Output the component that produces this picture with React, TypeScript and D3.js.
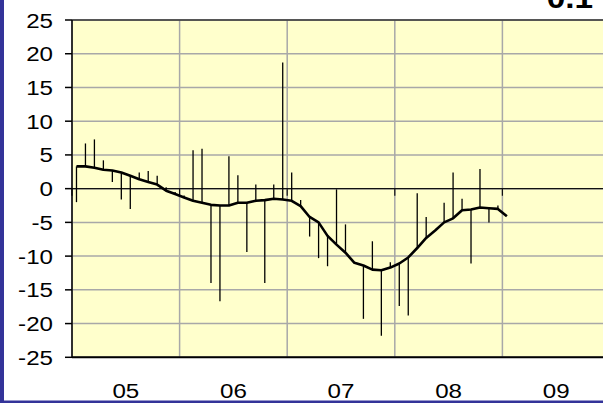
import React from "react";
import { scaleLinear, line } from "d3";

// monthly values, Jan 05 .. Jan 09
const years = ["05", "06", "07", "08", "09"];
const yTicks = [25, 20, 15, 10, 5, 0, -5, -10, -15, -20, -25];
const actual = [
  -2.0, 6.7, 7.3, 4.2, 1.0, -1.6, -3.0, 2.4, 2.6, 1.9, 0.2, -0.5,
  -1.0, 5.7, 5.9, -14.0, -16.7, 4.8, 2.0, -9.4, 0.6, -14.0, 0.6, 18.7,
  2.4, -1.7, -7.1, -10.3, -11.5, -0.1, -5.3, -11.0, -19.3, -7.8, -21.8, -10.9,
  -17.4, -18.8, -0.7, -4.2, -6.2, -2.1, 2.4, -1.5, -11.1, 2.9, -5.0, -2.5,
  -4.1
];
const trend = [
  3.3, 3.3, 3.1, 2.8, 2.7, 2.4, 1.9, 1.4, 1.0, 0.6, -0.3, -0.8,
  -1.3, -1.8, -2.1, -2.4, -2.5, -2.5, -2.1, -2.1, -1.8, -1.7, -1.5, -1.6,
  -1.8, -2.6, -4.2, -5.0, -7.0, -8.3, -9.5, -11.0, -11.4, -12.0, -12.1, -11.7,
  -11.1, -10.2, -8.8, -7.3, -6.2, -5.0, -4.4, -3.2, -3.1, -2.8, -2.9, -3.0,
  -4.1
];
const cornerLabel = "0.1";

const font = "'Liberation Sans', Arial, sans-serif";
const stretch = 1.15;

function Chart({ width, height }) {
  const left = 72,
    right = 610,
    top = 20,
    bottom = 357.3;

  const xScale = scaleLinear()
    .domain([0, years.length * 12])
    .range([left, right]);

  const yScale = scaleLinear()
    .domain([-25, 25])
    .range([bottom, top]);

  const trendPath = line()
    .x((d, i) => xScale(i + 0.5))
    .y(d => yScale(d))(trend);

  const yearEdges = years.map((_, i) => i * 12).concat([years.length * 12]);
  const y0 = yScale(0);

  return (
    <g>
      <rect
        x={left}
        y={top}
        width={right - left}
        height={bottom - top}
        fill="#ffffcc"
      />
      {yTicks.map(t => (
        <line
          key={"h" + t}
          x1={left}
          x2={right}
          y1={yScale(t)}
          y2={yScale(t)}
          stroke="#a8a8a8"
          strokeWidth={1.5}
        />
      ))}
      {yearEdges.map(m => (
        <line
          key={"v" + m}
          x1={xScale(m)}
          x2={xScale(m)}
          y1={top}
          y2={bottom}
          stroke="#a8a8a8"
          strokeWidth={1.5}
        />
      ))}

      {/* category axis sits on zero */}
      <line x1={left} x2={right} y1={y0} y2={y0} stroke="#111" strokeWidth={1.2} />
      {yearEdges.map(m => (
        <line
          key={"xt" + m}
          x1={xScale(m)}
          x2={xScale(m)}
          y1={y0}
          y2={y0 + 7}
          stroke="#111"
          strokeWidth={1.2}
        />
      ))}

      {actual.map((v, i) => (
        <line
          key={"hl" + i}
          x1={xScale(i + 0.5)}
          x2={xScale(i + 0.5)}
          y1={yScale(trend[i])}
          y2={yScale(v)}
          stroke="#000"
          strokeWidth={1.3}
        />
      ))}
      <path
        d={trendPath}
        fill="none"
        stroke="#000"
        strokeWidth={2.6}
        strokeLinejoin="round"
      />

      <line x1={left} x2={right} y1={top} y2={top} stroke="#333" strokeWidth={1.5} />
      <line x1={left} x2={right} y1={bottom} y2={bottom} stroke="#000" strokeWidth={2} />
      <line x1={left} x2={left} y1={top} y2={bottom} stroke="#000" strokeWidth={1.5} />

      {yTicks.map(t => (
        <g key={"yl" + t}>
          <line
            x1={left - 7}
            x2={left}
            y1={yScale(t)}
            y2={yScale(t)}
            stroke="#000"
            strokeWidth={1.5}
          />
          <text
            transform={`translate(${53}, ${yScale(t) + 7.5}) scale(${stretch}, 1)`}
            textAnchor="end"
            fontFamily={font}
            fontSize={21}
            fill="#000"
          >
            {t}
          </text>
        </g>
      ))}

      {years.map((yr, i) => (
        <text
          key={yr}
          transform={`translate(${xScale(i * 12 + 6)}, ${397.5}) scale(${stretch}, 1)`}
          textAnchor="middle"
          fontFamily={font}
          fontSize={21}
          fill="#000"
        >
          {yr}
        </text>
      ))}

      <text
        transform={`translate(${593}, ${7.5}) scale(${stretch}, 1)`}
        textAnchor="end"
        fontFamily={font}
        fontWeight="bold"
        fontSize={29}
        fill="#000"
      >
        {cornerLabel}
      </text>

      <rect x={0} y={0} width={4} height={height} fill="#333399" />
      <rect x={0} y={400.5} width={width} height={3} fill="#333399" />
    </g>
  );
}

export default function App() {
  const width = 603,
    height = 403;

  return (
    <svg
      width={width}
      height={height}
      style={{ position: "fixed", left: 0, top: 0, background: "#fff" }}
    >
      <Chart width={width} height={height} />
    </svg>
  );
}
